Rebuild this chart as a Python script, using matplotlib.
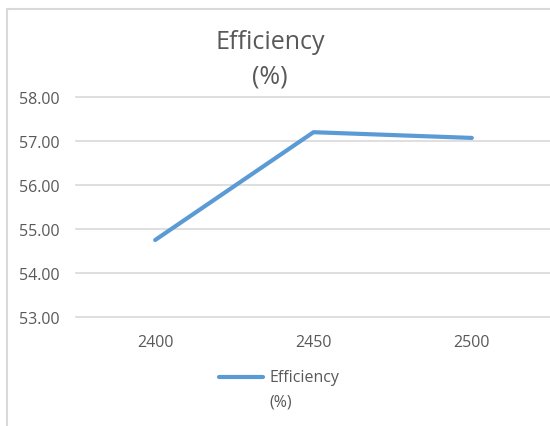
import matplotlib.pyplot as plt
import matplotlib.transforms as mtransforms
from matplotlib.patches import Rectangle

# data
categories = ['2400', '2450', '2500']
efficiency = [54.75, 57.20, 57.07]
y_ticks = [53, 54, 55, 56, 57, 58]

W, H = 550, 427
fig = plt.figure(figsize=(W / 100, H / 100), dpi=100)
plt.rcParams['font.family'] = ['Open Sans', 'DejaVu Sans']

# chart area border (cropped at right and bottom)
fig.patches.append(Rectangle((7 / W, -0.05), 1.0, 1 - 10 / H + 0.05,
                             transform=fig.transFigure, fill=False,
                             edgecolor='#d9d9d9', lw=1.5))

# plot area: 58 at y=98px, 53 at y=318px
ax = fig.add_axes([76 / W, 1 - 318 / H, (551 - 76) / W, 220 / H])
x = range(len(categories))
ax.plot(x, efficiency, color='#5b9bd5', lw=3, solid_capstyle='round',
        label='Efficiency\n(%)')
ax.set_xlim(-0.5, 2.5)
ax.set_ylim(53, 58)
ax.set_yticks(y_ticks)
ax.set_yticklabels(['%.2f' % v for v in y_ticks])
ax.set_xticks(list(x))
ax.set_xticklabels(categories)
ax.grid(axis='y', color='#d9d9d9', lw=1.2)
for gl in ax.get_ygridlines():
    gl.set_clip_on(False)
ax.set_axisbelow(True)
for s in ax.spines.values():
    s.set_visible(False)
ax.tick_params(length=0, labelsize=11.5, colors='#595959', pad=12)

fig.text(270 / W, 1 - 59.5 / H, 'Efficiency\n(%)', ha='center', va='center',
         fontsize=18, color='#595959', linespacing=1.5)

leg = ax.legend(loc='center', bbox_to_anchor=(279 / W, 1 - 390 / H),
                bbox_transform=fig.transFigure, frameon=False,
                fontsize=11.5, handlelength=2.8, handletextpad=0.4)
for t in leg.get_texts():
    t.set_color('#595959')
    t.set_linespacing(1.7)
# Excel puts the legend key next to the first line of the label
h = leg.legend_handles[0]
h.set_transform(h.get_transform() +
                mtransforms.ScaledTranslation(0, 12 / 100, fig.dpi_scale_trans))

fig.savefig('out.png', dpi=100)
